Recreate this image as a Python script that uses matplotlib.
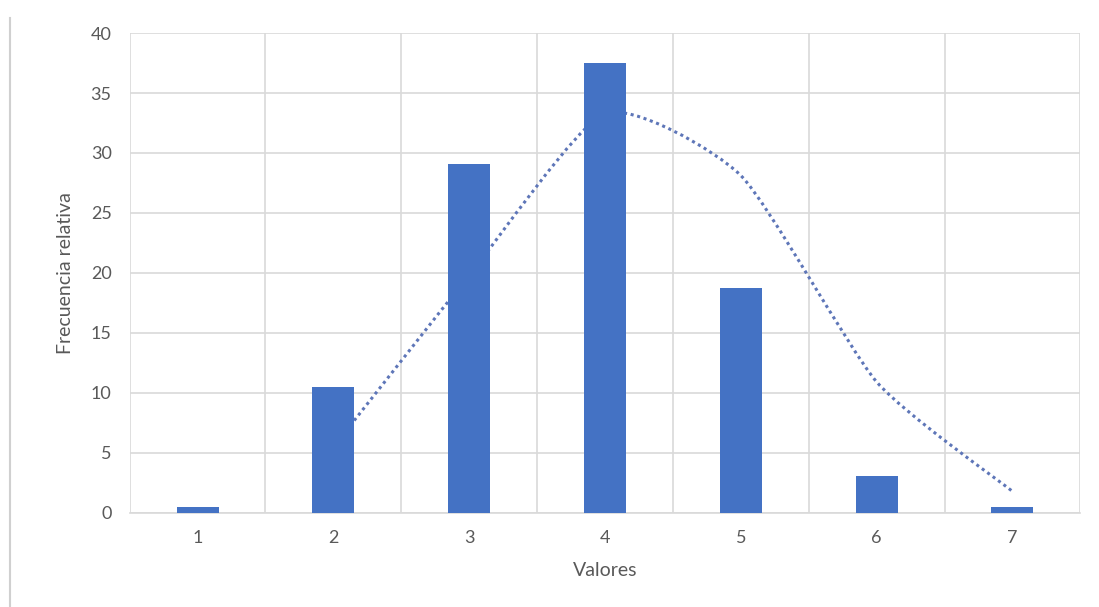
import matplotlib.pyplot as plt
from matplotlib.path import Path
from matplotlib.patches import PathPatch
from matplotlib.lines import Line2D
import numpy as np

plt.rcParams['font.family'] = ['Lato', 'DejaVu Sans']

# frequency per value
valores = [1, 2, 3, 4, 5, 6, 7]
frecuencia = [0.5, 10.5, 29.1, 37.5, 18.75, 3.1, 0.5]

# 2-period moving average, starting at the second value
x_media = np.array(valores[1:], dtype=float)
y_media = (np.array(frecuencia[:-1]) + np.array(frecuencia[1:])) / 2

bar_color = '#4472C4'
grid_color = '#D9D9D9'
text_color = '#595959'

fig = plt.figure(figsize=(10.99, 6.07), dpi=100)
ax = fig.add_axes([0.118, 0.155, 0.865, 0.7906])

# smoothed trend line (Bezier segments through the averages)
def smooth_path(xs, ys, t=0.1):
    verts = [(xs[0], ys[0])]
    codes = [Path.MOVETO]
    n = len(xs)
    for i in range(n - 1):
        p0 = (xs[max(i - 1, 0)], ys[max(i - 1, 0)])
        p1 = (xs[i], ys[i])
        p2 = (xs[i + 1], ys[i + 1])
        p3 = (xs[min(i + 2, n - 1)], ys[min(i + 2, n - 1)])
        c1 = (p1[0] + (p2[0] - p0[0]) * t, p1[1] + (p2[1] - p0[1]) * t)
        c2 = (p2[0] - (p3[0] - p1[0]) * t, p2[1] - (p3[1] - p1[1]) * t)
        verts += [c1, c2, p2]
        codes += [Path.CURVE4] * 3
    return Path(verts, codes)

ax.add_patch(PathPatch(smooth_path(x_media, y_media), facecolor='none',
                       edgecolor='#5E76B8', linewidth=2.2, linestyle=(0, (1, 1.2)),
                       zorder=2))

ax.bar(valores, frecuencia, width=0.31, color=bar_color, zorder=3)

ax.set_xlim(0.5, 7.5)
ax.set_ylim(0, 40)
ax.set_yticks(range(0, 41, 5))
ax.set_xticks(valores)
ax.set_xticks(np.arange(0.5, 8, 1), minor=True)

ax.grid(True, axis='y', which='major', color=grid_color, linewidth=1.2, zorder=0)
ax.grid(True, axis='x', which='minor', color=grid_color, linewidth=1.2, zorder=0)
ax.set_axisbelow(True)

for side in ['top', 'right', 'left']:
    ax.spines[side].set_visible(False)
ax.spines['bottom'].set_color(grid_color)
ax.spines['bottom'].set_linewidth(1.2)

ax.tick_params(axis='both', which='both', length=0, colors=text_color, labelsize=13)
ax.tick_params(axis='x', pad=12)
ax.tick_params(axis='y', pad=13)

ax.set_xlabel('Valores', fontsize=14, color=text_color, labelpad=12)
ax.set_ylabel('Frecuencia relativa', fontsize=14, color=text_color, labelpad=12)

# thin border on the left edge of the image
fig.add_artist(Line2D([0.009, 0.009], [0, 0.97], transform=fig.transFigure,
                      color='#D0D0D0', linewidth=1.5))

plt.savefig('out.png', dpi=100, facecolor='white')
plt.close()
